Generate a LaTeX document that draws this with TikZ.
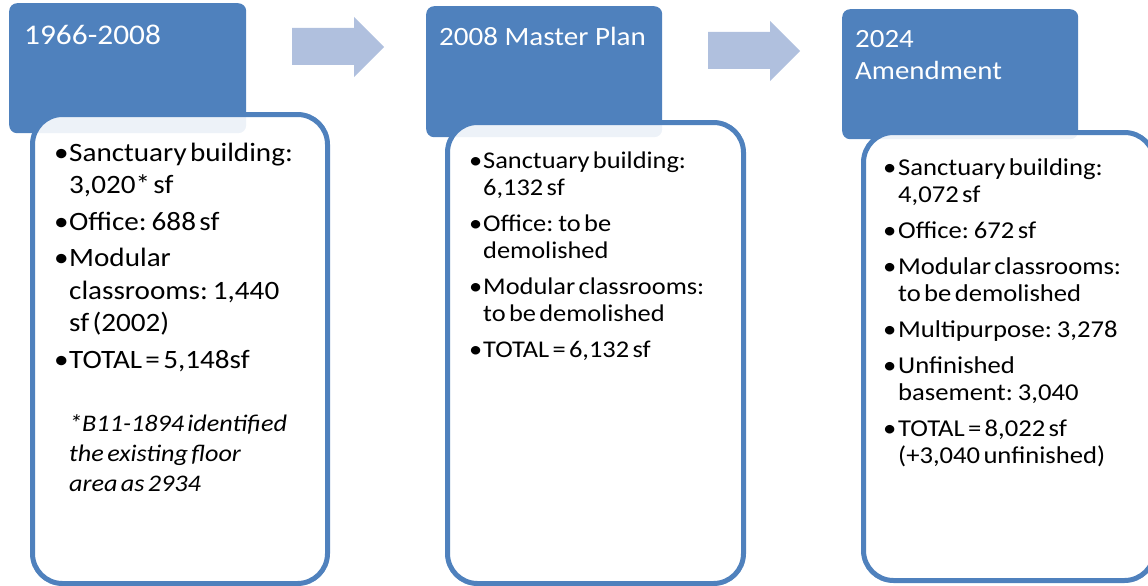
\documentclass[tikz,border=0pt]{standalone}
\usepackage{fontspec}
\setmainfont{Carlito}[FakeStretch=1.1]
\definecolor{hblue}{RGB}{79,129,189}
\definecolor{ablue}{RGB}{176,192,222}
\newlength\bw
\newcommand\bfirst[1]{\hangindent=\bw\hangafter=1\noindent\makebox[\bw][l]{\hspace*{-1pt}\textbullet}#1}
\newcommand\bitem[1]{\par\bfirst{#1}}
\begin{document}
\begin{tikzpicture}[x=1pt,y=-1pt,
  header/.style={fill=hblue, draw=none, rounded corners=8pt, minimum height=130pt, anchor=north west, inner sep=0pt},
  panel/.style={draw=hblue, line width=5pt, fill=white, fill opacity=0.9, rounded corners=30pt, anchor=north west, inner sep=0pt},
  htext/.style={text=white, anchor=base west, inner sep=0pt},
  body/.style={anchor=base west, inner sep=0pt, text width=285pt, align=left},
  barrow/.style={fill=ablue, draw=none}]
\useasboundingbox (0,0) rectangle (1148,586);
\clip (0,0) rectangle (1148,586);

% block arrows
\fill[barrow] (292,28) -- (354,28) -- (354,17) -- (384,47) -- (354,77) -- (354,65) -- (292,65) -- cycle;
\fill[barrow] (708,32) -- (770,32) -- (770,21) -- (800,51) -- (770,81) -- (770,69) -- (708,69) -- cycle;

% headers
\node[header, minimum width=237pt] (h1) at (9,3) {};
\node[header, minimum width=236pt, minimum height=131pt] (h2) at (426,6) {};
\node[header, minimum width=236pt] (h3) at (842,9) {};

% panels
\node[panel, minimum width=295pt, minimum height=469pt] (w1) at (30,112) {};
\node[panel, minimum width=296pt, minimum height=461pt] (w2) at (445,120) {};
\node[panel, minimum width=291pt, minimum height=448pt] (w3) at (861,130) {};

% header texts
\node[htext] (ht1) at (24,45) {\fontsize{28.5}{34}\selectfont 1966-2008};
\node[htext] (ht2) at (439,45.5) {\fontsize{26.4}{32}\selectfont 2008 Master Plan};
\node[htext] (ht3a) at (855,47.5) {\fontsize{26.3}{32}\selectfont 2024};
\node[htext] (ht3b) at (855,79.5) {\fontsize{26.3}{32}\selectfont Amendment};

% body texts
\node[body] (t1) at (55,161) {\fontsize{26.5}{32.5}\selectfont\setlength\bw{14pt}\parskip=4pt\lineskiplimit=-20pt
\bfirst{Sanctuary building:\newline 3,020* sf}
\bitem{Office: 688 sf}
\bitem{Modular\newline classrooms: 1,440\newline sf (2002)}
\bitem{TOTAL = 5,148sf}\par};
\node[body] (n1) at (69,431) {\fontsize{23.8}{30}\selectfont\lineskiplimit=-20pt\itshape *B11-1894 identified\newline the existing floor\newline area as 2934\par};

\node[body] (t2) at (470,168) {\fontsize{24}{27}\selectfont\setlength\bw{13pt}\parskip=9pt\lineskiplimit=-20pt
\bfirst{Sanctuary building:\newline 6,132 sf}
\bitem{Office: to be\newline demolished}
\bitem{Modular classrooms:\newline to be demolished}
\bitem{TOTAL = 6,132 sf}\par};

\node[body] (t3) at (884,175) {\fontsize{24.2}{27}\selectfont\setlength\bw{14pt}\parskip=9pt\lineskiplimit=-20pt
\bfirst{Sanctuary building:\newline 4,072 sf}
\bitem{Office: 672 sf}
\bitem{Modular classrooms:\newline to be demolished}
\bitem{Multipurpose: 3,278}
\bitem{Unfinished\newline basement: 3,040}
\bitem{TOTAL = 8,022 sf\newline (+3,040 unfinished)}\par};
\end{tikzpicture}
\end{document}
